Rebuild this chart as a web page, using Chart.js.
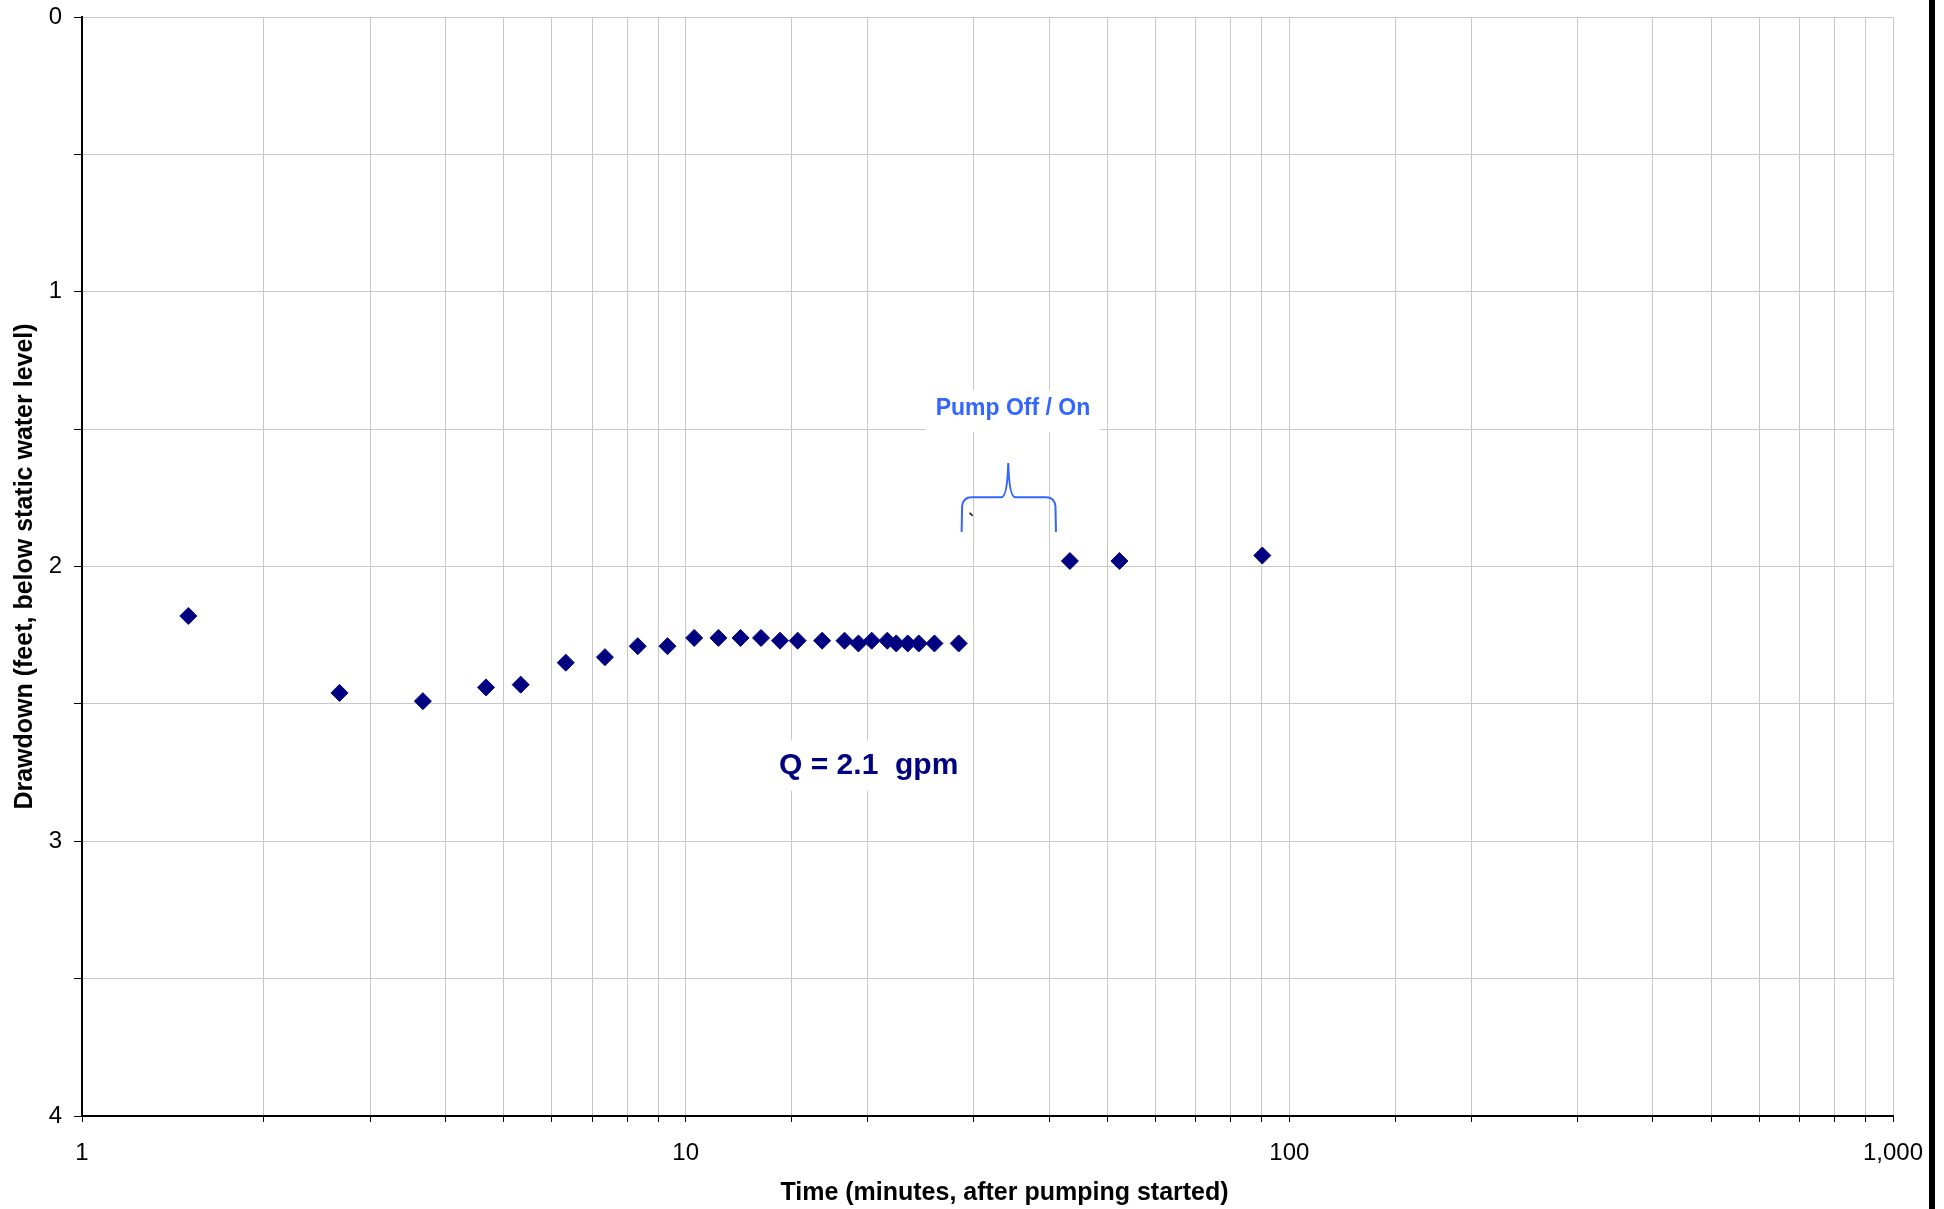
<!DOCTYPE html>
<html>
<head>
<meta charset="utf-8">
<script src="https://cdn.jsdelivr.net/npm/chart.js@4.4.1/dist/chart.umd.min.js"></script>
<style>
  html, body { margin: 0; padding: 0; background: #fff; }
  #wrap { position: relative; width: 1944px; height: 1209px; }
</style>
</head>
<body>
<div id="wrap"><canvas id="drawdownChart"></canvas></div>
<script>
// time since pumping started (minutes)
const timeMinutes = [1.5, 2.67, 3.67, 4.67, 5.33, 6.33, 7.35, 8.33, 9.33, 10.33,
  11.33, 12.33, 13.33, 14.33, 15.33, 16.83, 18.33, 19.33, 20.33, 21.58,
  22.33, 23.33, 24.33, 25.83, 28.33, 43.3, 52.3, 90.2];
// drawdown below static water level (feet)
const drawdownFeet = [2.18, 2.46, 2.49, 2.44, 2.43, 2.35, 2.33, 2.29, 2.29, 2.26,
  2.26, 2.26, 2.26, 2.27, 2.27, 2.27, 2.27, 2.28, 2.27, 2.27,
  2.28, 2.28, 2.28, 2.28, 2.28, 1.98, 1.98, 1.96];

const xTickLabels = [1, 10, 100, 1000];
const yTickLabels = [0, 1, 2, 3, 4];
const xTitle = "Time (minutes, after pumping started)";
const yTitle = "Drawdown (feet, below static water level)";
const flowLabel = "Q = 2.1  gpm";
const pumpLabel = "Pump Off / On";

const FONT = "'Liberation Sans', Arial, sans-serif";
const NAVY = "#000080";
const BLUE = "#3366ff";
const GRID = "#c8c8c8";

Chart.defaults.font.family = FONT;
Chart.defaults.color = "#000";

let myChart;

// text labels, brace and frame drawn on top of the points
const extras = {
  id: "extras",
  afterDatasetsDraw(chart) {
    const { ctx, chartArea, scales: { x, y } } = chart;
    ctx.save();

    // Pump Off / On label with white box
    const px = x.getPixelForValue(34.85), pyBase = y.getPixelForValue(1.449);
    ctx.font = "bold 23px " + FONT;
    ctx.textAlign = "center";
    ctx.textBaseline = "alphabetic";
    let w = ctx.measureText(pumpLabel).width;
    ctx.fillStyle = "#fff";
    ctx.fillRect(px - w / 2 - 10, pyBase - 25, w + 20, 42);
    ctx.fillStyle = BLUE;
    ctx.fillText(pumpLabel, px, pyBase);

    // brace under the label
    const xl = x.getPixelForValue(28.65), xt = x.getPixelForValue(34.23), xr = x.getPixelForValue(41.06);
    const yb = y.getPixelForValue(1.748), ytip = y.getPixelForValue(1.623), ye = y.getPixelForValue(1.874);
    ctx.strokeStyle = BLUE;
    ctx.lineWidth = 2;
    ctx.beginPath();
    ctx.moveTo(xl, ye);
    ctx.lineTo(xl + 0.5, yb + 9);
    ctx.quadraticCurveTo(xl + 1.5, yb, xl + 10, yb);
    ctx.lineTo(xt - 7, yb);
    ctx.quadraticCurveTo(xt - 1, yb, xt, ytip);
    ctx.quadraticCurveTo(xt + 1, yb, xt + 7, yb);
    ctx.lineTo(xr - 10, yb);
    ctx.quadraticCurveTo(xr - 1.5, yb, xr - 0.5, yb + 9);
    ctx.lineTo(xr, ye);
    ctx.stroke();

    // small stray tick
    const sx = x.getPixelForValue(29.7), sy = y.getPixelForValue(1.81);
    ctx.strokeStyle = "#000";
    ctx.lineWidth = 1.5;
    ctx.beginPath();
    ctx.moveTo(sx - 1.5, sy - 1.5);
    ctx.lineTo(sx + 1.5, sy + 1.5);
    ctx.stroke();

    // flow rate label
    const qx = x.getPixelForValue(20.1), qy = y.getPixelForValue(2.754);
    ctx.font = "bold 30px " + FONT;
    w = ctx.measureText(flowLabel).width;
    ctx.fillStyle = "#fff";
    ctx.fillRect(qx - w / 2 - 8, qy - 33, w + 16, 50);
    ctx.fillStyle = NAVY;
    ctx.fillText(flowLabel, qx, qy);

    // x axis title
    ctx.font = "bold 25px " + FONT;
    ctx.fillStyle = "#000";
    ctx.fillText(xTitle, (chartArea.left + chartArea.right) / 2 + 17, 1200);

    // black bar at right edge
    ctx.fillStyle = "#000";
    ctx.fillRect(1929, 0, 6, chart.height);
    ctx.restore();
  }
};

function buildChart() {
  const myChartRef = document.getElementById("drawdownChart").getContext("2d");
  if (typeof myChart !== "undefined") myChart.destroy();

  myChart = new Chart(myChartRef, {
    type: "scatter",
    data: {
      datasets: [
        {
          label: "Drawdown",
          data: timeMinutes.map((t, i) => ({ x: t, y: drawdownFeet[i] })),
          pointStyle: "rectRot",
          pointRadius: 8.5,
          pointHoverRadius: 8.5,
          borderWidth: 1,
          backgroundColor: NAVY,
          borderColor: NAVY,
          showLine: false
        }
      ]
    },
    options: {
      responsive: true,
      maintainAspectRatio: false,
      animation: false,
      devicePixelRatio: 1,
      layout: { padding: { left: 0, top: 17, right: 51, bottom: 0 } },
      plugins: {
        legend: { display: false },
        tooltip: { enabled: false }
      },
      scales: {
        x: {
          type: "logarithmic",
          position: "bottom",
          min: 1,
          max: 1000,
          afterFit: (scale) => {
            scale.height = 93;
            scale.paddingLeft = 0;
            scale.paddingRight = 0;
          },
          grid: { color: GRID, lineWidth: 1, tickColor: "#000", tickLength: 6 },
          border: { color: "#000", width: 2 },
          ticks: {
            autoSkip: false,
            maxRotation: 0,
            padding: 17,
            font: { size: 24 },
            callback: (value) => {
              const hit = xTickLabels.find(t => Math.abs(value - t) < t * 1e-6);
              return hit ? hit.toLocaleString("en-US") : "";
            }
          }
        },
        y: {
          reverse: true,
          min: 0,
          max: 4,
          afterFit: (scale) => {
            scale.width = 82;
            scale.paddingTop = 0;
            scale.paddingBottom = 0;
          },
          grid: { color: GRID, lineWidth: 1, tickColor: "#000", tickLength: 8 },
          border: { color: "#000", width: 2 },
          title: {
            display: true,
            text: yTitle,
            font: { size: 25, weight: "bold" },
            padding: { top: 10, bottom: 0 }
          },
          ticks: {
            stepSize: 0.5,
            padding: 12,
            font: { size: 24 },
            callback: (value) => yTickLabels.includes(value) ? String(value) : ""
          }
        }
      }
    },
    plugins: [extras]
  });
}

buildChart();
</script>
</body>
</html>
